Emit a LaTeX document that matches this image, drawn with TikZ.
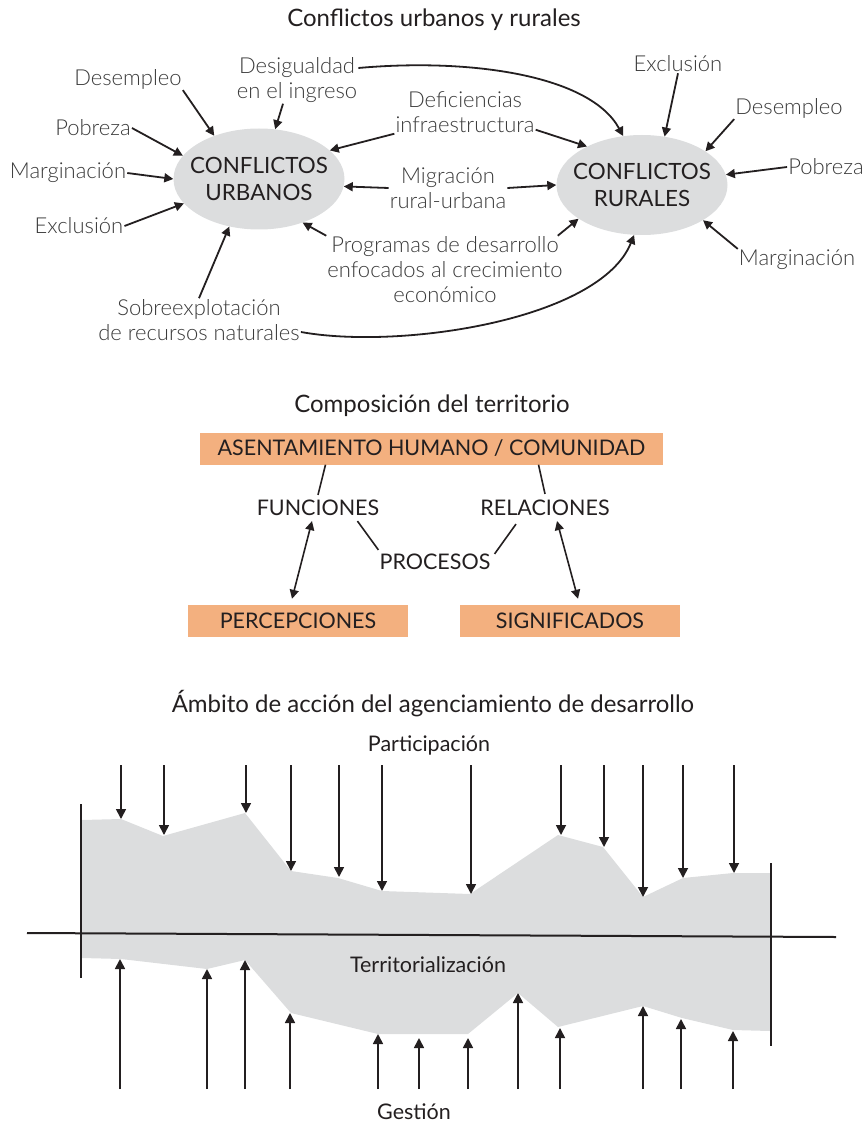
\documentclass[tikz,border=0pt]{standalone}
\usepackage{fontspec}
\setmainfont{Lato}
\newfontfamily\lightfont{Lato Light}
\usetikzlibrary{arrows.meta,shapes.geometric}
\definecolor{ink}{HTML}{231F20}
\definecolor{lbl}{HTML}{3A3A3A}
\definecolor{ellfill}{HTML}{DCDDDE}
\definecolor{boxfill}{HTML}{F3B07F}
\definecolor{bandfill}{HTML}{DCDDDE}
\begin{document}
\begin{tikzpicture}[x=1pt,y=-1pt,
  lbl/.style={font=\lightfont\fontsize{22}{25}\selectfont, text=lbl, align=center, inner sep=1pt},
  ttl/.style={font=\fontsize{24}{28}\selectfont, text=ink, inner sep=1pt},
  conf/.style={ellipse, fill=ellfill, minimum width=171, minimum height=101,
    inner xsep=-10pt, inner ysep=0pt,
    font=\fontsize{22.4}{27}\selectfont, align=center, text=ink},
  captxt/.style={font=\fontsize{21.5}{25}\selectfont, text=ink, inner sep=1pt},
  capbox/.style={captxt, fill=boxfill, minimum height=32, inner sep=0pt},
  arr/.style={-{Triangle[width=9pt,length=9pt]}, line width=1.8pt, draw=ink},
  darr/.style={{Triangle[width=9pt,length=9pt]}-{Triangle[width=9pt,length=9pt]}, line width=1.6pt, draw=ink},
  link/.style={line width=1.6pt, draw=ink},
  flow/.style={-{Triangle[width=10pt,length=10pt]}, line width=1.7pt, draw=ink},
  axis/.style={line width=2pt, draw=ink}]
\useasboundingbox (0,0) rectangle (867,1123);

% ---------- Conflictos urbanos y rurales ----------
\node[ttl] (t1) at (434,20) {Conflictos urbanos y rurales};
\node[conf] (urb) at (259,179) {CONFLICTOS\\URBANOS};
\node[conf, minimum height=100] (rur) at (642,185) {CONFLICTOS\\RURALES};

\node[lbl] (ud) at (128,79) {Desempleo};
\node[lbl] (up) at (93,128) {Pobreza};
\node[lbl] (um) at (68,173) {Marginación};
\node[lbl] (ue) at (79,226) {Exclusión};
\node[lbl] (desig) at (297,80) {Desigualdad\\en el ingreso};
\node[lbl] (defic) at (465,112) {Deficiencias\\infraestructura};
\node[lbl] (migr) at (448,188) {Migración\\rural-urbana};
\node[lbl] (prog) at (445,270) {Programas de desarrollo\\enfocados al crecimiento\\económico};
\node[lbl] (sobre) at (199,320) {Sobreexplotación\\de recursos naturales};
\node[lbl] (re) at (678,64) {Exclusión};
\node[lbl] (rd) at (789,108) {Desempleo};
\node[lbl] (rp) at (826,167) {Pobreza};
\node[lbl] (rm) at (797,260) {Marginación};

\draw[arr] (ud.south east) -- (urb.136);
\draw[arr] (up.east) -- (urb.163);
\draw[arr] (um.east) -- (urb.180);
\draw[arr] (ue.east) -- (urb.-162);
\draw[arr] ([xshift=-14pt]desig.south) -- (urb.72);
\draw[arr] (defic.south west) -- (urb.22);
\draw[arr] (migr.west) -- (urb.-5);
\draw[arr] (prog.north west) -- (urb.-45);
\draw[arr] (sobre.north) -- (urb.-122);

\draw[arr] ([yshift=4pt]defic.south east) -- (rur.145);
\draw[arr] (migr.east) -- (rur.180);
\draw[arr] ([xshift=-6pt]prog.north east) -- (rur.-152);
\draw[arr] (re.south) -- (rur.65);
\draw[arr] (rd.south west) -- (rur.28);
\draw[arr] (rp.west) -- (rur.7);
\draw[arr] (rm.north west) -- (rur.-30);

\draw[arr] ([yshift=12pt]desig.east) .. controls (470,58) and (590,75) .. (rur.111);
\draw[arr] ([yshift=-12pt]sobre.east) .. controls (400,350) and (600,320) .. (rur.-99);

% ---------- Composición del territorio ----------
\node[ttl] (t2) at (432,406) {Composición del territorio};
\node[capbox, minimum width=463] (asent) at (431.5,448.5) {ASENTAMIENTO HUMANO / COMUNIDAD};
\node[captxt] (fun) at (318,508) {FUNCIONES};
\node[captxt] (rel) at (545,508) {RELACIONES};
\node[captxt] (proc) at (435,562) {PROCESOS};
\node[capbox, minimum width=220] (perc) at (298,621) {PERCEPCIONES};
\node[capbox, minimum width=220] (sig) at (570,621) {SIGNIFICADOS};

\draw[link] ([xshift=-106pt]asent.south) -- ([yshift=4pt]fun.north);
\draw[link] ([xshift=107pt]asent.south) -- ([yshift=5pt]rel.north);
\draw[link] ([xshift=-23pt,yshift=-4pt]fun.south east) -- ([yshift=3pt]proc.north west);
\draw[link] ([xshift=-29pt,yshift=-7pt]rel.south) -- ([xshift=3pt,yshift=-1pt]proc.north east);
\draw[darr] ([xshift=-6pt,yshift=-4pt]fun.south) -- ([xshift=-6pt,yshift=6pt]perc.north);
\draw[darr] ([xshift=12pt,yshift=-4pt]rel.south) -- ([xshift=8pt,yshift=6pt]sig.north);

% ---------- Ámbito de acción del agenciamiento de desarrollo ----------
\node[ttl] (t3) at (433,704) {Ámbito de acción del agenciamiento de desarrollo};

% territory band around the axis
\fill[bandfill] (82,820) -- (121,819) -- (163,836) -- (245,813) -- (291,871) -- (338,878)
  -- (382,891) -- (470,894) -- (558,835) -- (603,847) -- (643,897) -- (683,878)
  -- (733,873) -- (770,873) -- (770,1031) -- (733,1030) -- (682,1018) -- (643,1006)
  -- (558,1027) -- (518,993) -- (468,1034) -- (378,1034) -- (291,1013) -- (245,960)
  -- (207,969) -- (121,959) -- (82,958) -- cycle;

\node[captxt] (part) at (429,745) {Participación};
\node[captxt] (terr) at (428,965) {Territorialización};
\node[captxt] (gest) at (414,1112) {Gestión};

\draw[axis] (27,933) -- (836,937);
\draw[axis] (81,804) -- (81,978);
\draw[axis] (771,863) -- (771,1046);

% participation pressing down on the band
\foreach \x/\y in {121/819,164/835,246/813,291/871,339/877,382/891,471/894,561/835,604/847,643/897,683/878,734/873}
  \draw[flow] (\x,765) -- (\x,\y);
% management pushing up on the band
\foreach \x/\y in {120/959,207/969,245/960,290/1013,378/1034,419/1038,468/1038,518/993,560/1028,643/1006,681/1019,733/1031}
  \draw[flow] (\x,1089) -- (\x,\y);
\end{tikzpicture}
\end{document}
